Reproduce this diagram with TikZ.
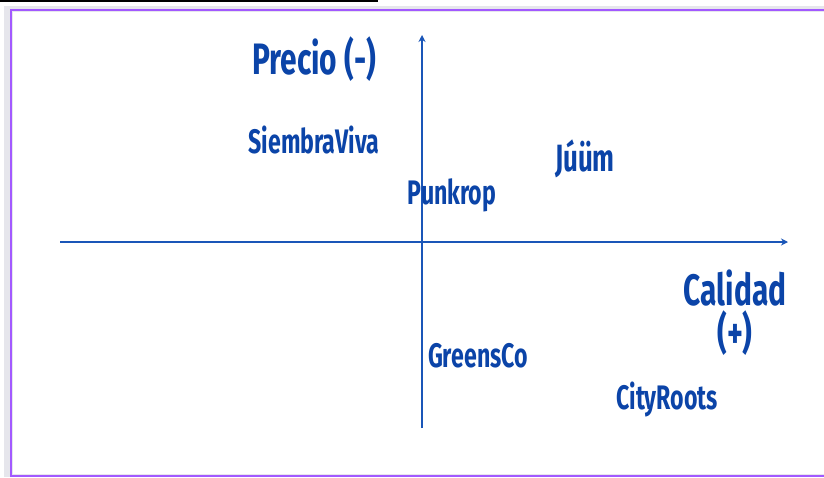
\documentclass[tikz,border=0pt]{standalone}
\usepackage{fontspec}
\newfontfamily\condfont[FakeStretch=0.68]{Fira Sans}
\usetikzlibrary{arrows.meta}
\definecolor{txtblue}{HTML}{0B44A8}
\definecolor{axblue}{HTML}{1A56B8}
\definecolor{frame}{HTML}{A259FF}
\definecolor{outer}{HTML}{E6E6EC}
\tikzset{
  axis/.style={draw=axblue, line width=2pt, -{Stealth[length=7pt,width=7pt]}},
  title/.style={text=txtblue, font=\condfont\bfseries\fontsize{44}{44}\selectfont, inner sep=0pt, anchor=base},
  brand/.style={text=txtblue, font=\condfont\bfseries\fontsize{34}{34}\selectfont, inner sep=0pt, anchor=base},
}
\begin{document}
\begin{tikzpicture}[x=1pt,y=-1pt]
\useasboundingbox (0,0) rectangle (824,477);
\fill[white] (0,0) rectangle (824,477);
\fill[outer] (4,6) rectangle (824,477);
\fill[white] (13,12) rectangle (824,474);
\draw[black, line width=1.6pt] (0,0.8) -- (378,0.8);
\draw[frame, line width=2.5pt] (824,10) -- (11,10) -- (11,476) -- (824,476);
% axes
\coordinate (xs) at (60,242);
\coordinate (xe) at (788,242);
\coordinate (ys) at (422,428);
\coordinate (ye) at (422,35);
\draw[axis] (xs) -- (xe);
\draw[axis] (ys) -- (ye);
% titles
\node[title] (precio) at (314,74) {Precio (-)};
\node[title] (calidad) at (735,305) {Calidad};
\node[title] (plus) at (735,348) {(+)};
% brands
\node[brand] (siembra) at (314,153) {SiembraViva};
\node[brand, font=\condfont\bfseries\fontsize{38}{38}\selectfont] (juum) at (585,171) {Júüm};
\node[brand] (punkrop) at (452,204) {Punkrop};
\node[brand] (greens) at (478,367) {GreensCo};
\node[brand] (city) at (667,409) {CityRoots};
\end{tikzpicture}
\end{document}
